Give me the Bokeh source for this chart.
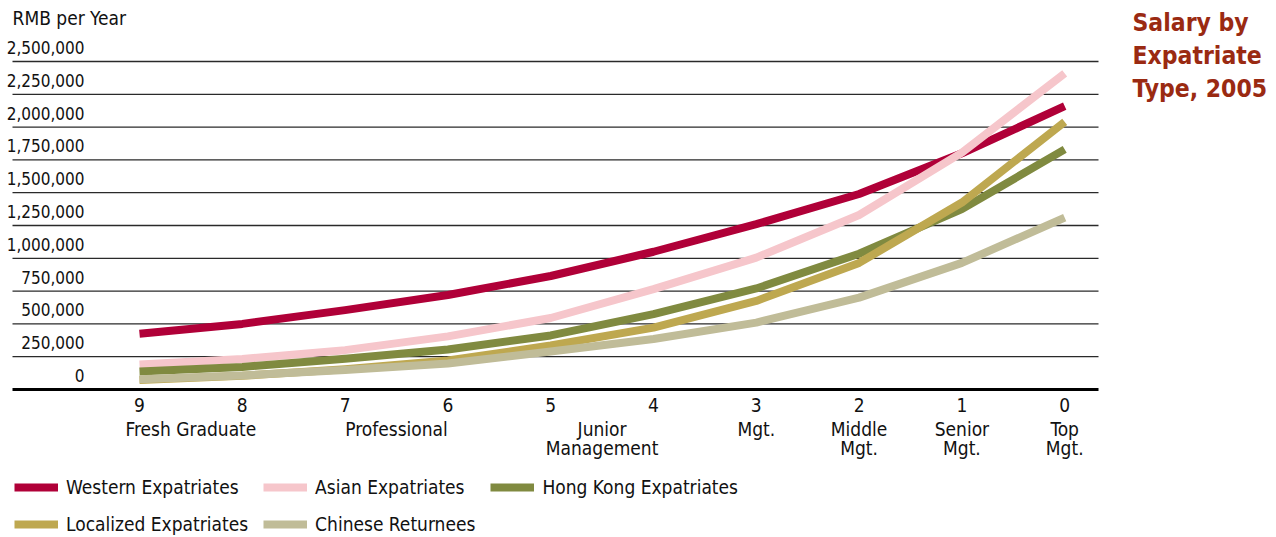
from bokeh.plotting import figure
from bokeh.models import Legend, LegendItem, Label, Range1d
from bokeh.core.properties import value
from bokeh.embed import file_html
from bokeh.resources import INLINE

# ---- data -------------------------------------------------------------
levels = ["9", "8", "7", "6", "5", "4", "3", "2", "1", "0"]
group_labels = ["Fresh Graduate", "Professional", "Junior\nManagement", "Mgt.",
                "Middle\nMgt.", "Senior\nMgt.", "Top\nMgt."]
group_pos = [0.5, 2.5, 4.5, 6, 7, 8, 9]          # position along the level axis

y_ticks = [0, 250000, 500000, 750000, 1000000, 1250000,
           1500000, 1750000, 2000000, 2250000, 2500000]

western = [425000, 500000, 605000, 720000, 865000, 1050000, 1260000, 1490000, 1800000, 2160000]
asian = [190000, 232000, 300000, 405000, 545000, 765000, 1005000, 1330000, 1805000, 2410000]
hong_kong = [137000, 172000, 235000, 305000, 412000, 575000, 770000, 1035000, 1375000, 1830000]
localized = [72000, 104000, 155000, 222000, 335000, 472000, 675000, 965000, 1425000, 2040000]
returnees = [78000, 107000, 148000, 198000, 290000, 385000, 510000, 700000, 965000, 1310000]

series = [
    ("Western Expatriates", western, "#B00038"),
    ("Asian Expatriates", asian, "#F6C6CB"),
    ("Hong Kong Expatriates", hong_kong, "#808A40"),
    ("Localized Expatriates", localized, "#BEA850"),
    ("Chinese Returnees", returnees, "#C0BC98"),
]
title_lines = ["Salary by", "Expatriate", "Type, 2005"]

# ---- page geometry (pixels) -------------------------------------------
W, H = 1276, 537
GRID_L, GRID_R = 12, 1098            # horizontal extent of the rules
X0_PX, X_STEP_PX = 139, 102.8        # pixel of first level and spacing
Y0_PX, PX_PER_VAL = 389, 131.2 / 1e6  # baseline pixel and scale

FONT_NAME = "DejaVu Sans Condensed"
FONT = value(FONT_NAME)
TXT = "#111111"
SIZE = "19px"
TICK_SIZE = "17px"


def px_x(px):
    return (px - X0_PX) / X_STEP_PX


def px_y(py):
    return (Y0_PX - py) / PX_PER_VAL


idx = list(range(len(levels)))

# the frame covers the whole canvas so that every text can be drawn in it
p = figure(width=W, height=H, output_backend="svg", toolbar_location=None,
           x_axis_location=None, y_axis_location=None,
           x_range=Range1d(px_x(0), px_x(W)),
           y_range=Range1d(px_y(H), px_y(0)),
           min_border=0)
p.outline_line_color = None
p.background_fill_color = "white"
p.border_fill_color = "white"
p.grid.visible = False

# horizontal rules, heavier baseline at zero
rules = y_ticks[1:]
p.segment(x0=[px_x(GRID_L)] * len(rules), x1=[px_x(GRID_R)] * len(rules),
          y0=rules, y1=rules, line_color="#2a2a2a", line_width=1.3)
p.segment(x0=[px_x(GRID_L)], x1=[px_x(GRID_R)], y0=[0], y1=[0],
          line_color="black", line_width=3)

# value labels sitting above each rule
p.text(x=[px_x(84)] * len(y_ticks), y=y_ticks,
       text=[f"{v:,}" for v in y_ticks],
       text_font=FONT, text_font_size=TICK_SIZE, text_color=TXT,
       text_align="right", text_baseline="middle", y_offset=-14)
p.text(x=[px_x(12)], y=[px_y(17)], text=["RMB per Year"],
       text_font=FONT, text_font_size=SIZE, text_color=TXT,
       text_align="left", text_baseline="middle")

# level numbers and job-grade names under the baseline
p.text(x=idx, y=[px_y(404)] * len(idx), text=levels,
       text_font=FONT, text_font_size=SIZE, text_color=TXT,
       text_align="center", text_baseline="middle")
p.text(x=group_pos, y=[px_y(417)] * len(group_pos), text=group_labels,
       text_font=FONT, text_font_size=SIZE, text_color=TXT,
       text_align="center", text_baseline="top", text_line_height=0.88)

items = []
for name, vals, color in series:
    r = p.line(idx, vals, line_width=8, line_color=color, line_join="round")
    items.append(LegendItem(label=name, renderers=[r]))

legend = Legend(items=items, location=(14, 2), ncols=3, orientation="horizontal",
                glyph_width=44, glyph_height=20, label_height=20,
                label_standoff=8, spacing=15, padding=0, margin=0,
                label_text_font=FONT_NAME, label_text_font_size=SIZE,
                label_text_color=TXT, border_line_color=None,
                background_fill_alpha=0)
p.add_layout(legend, "center")

for i, line in enumerate(title_lines):
    p.add_layout(Label(x=px_x(1132), y=px_y(22 + 33 * i), text=line,
                       text_font=FONT_NAME, text_font_size="24.5px",
                       text_font_style="bold", text_color="#9A2A12",
                       text_align="left", text_baseline="middle"))

open("out.html", "w").write(file_html(p, INLINE))
